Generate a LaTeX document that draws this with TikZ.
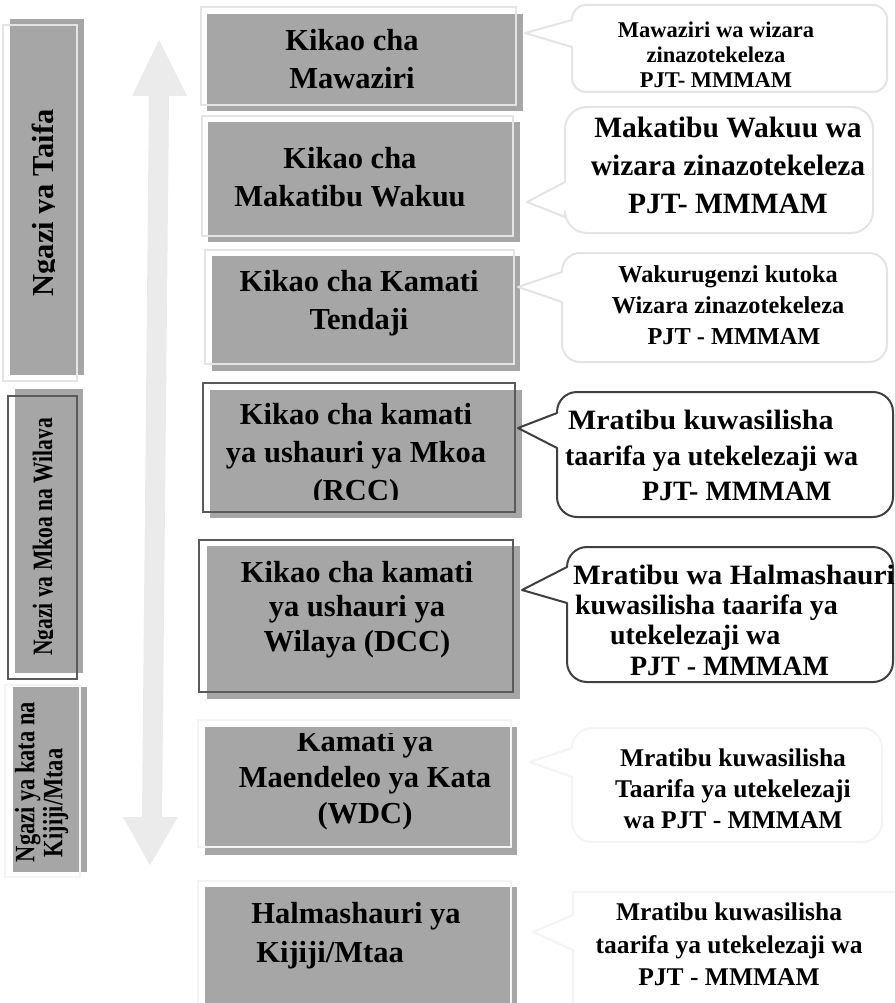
\documentclass[tikz,border=0pt]{standalone}
\usepackage{fontspec}
\usepackage{graphicx}
\setmainfont{Liberation Serif}
\definecolor{boxgray}{HTML}{A6A6A6}
\definecolor{arrowgray}{HTML}{EBEBEB}
\definecolor{lightline}{HTML}{E4E4E4}
\definecolor{darkline}{HTML}{5A5A5A}
\definecolor{faintline}{HTML}{F4F4F4}
\definecolor{calloutdark}{HTML}{404040}
\newcommand{\fsz}[2]{\fontsize{#1}{#2}\selectfont}
\begin{document}
\begin{tikzpicture}[x=1pt,y=-1pt,
  graybar/.style={fill=boxgray,draw=none},
  boxframe/.style={draw=#1,line width=1.2pt,fill=none},
  txt/.style={inner sep=0pt,outer sep=0pt,align=center,text=black},
  callline/.style={draw=#1,line width=2pt,fill=none,line join=round},
]
\useasboundingbox[fill=white] (0,0) rectangle (894,1003);

% ---------- big double arrow ----------
\fill[arrowgray] (159,40) -- (187,96) -- (169,96) -- (162,817) -- (178,817)
  -- (150,865) -- (123,817) -- (142,817) -- (149,96) -- (132,96) -- cycle;

% ---------- left level bars ----------
\fill[graybar] (10,19) rectangle (84,375);
\draw[boxframe=lightline] (3,25) rectangle (77,381);
\begin{scope}
  \clip (10,19) rectangle (54,375);
  \node[txt,rotate=90,anchor=base,font=\bfseries\fsz{30.5}{36}] (lvlA) at (53.5,203) {Ngazi ya Taifa};
\end{scope}

\fill[graybar] (15,389) rectangle (83,673);
\draw[boxframe=darkline] (8,396) rectangle (77,679);
\begin{scope}
  \clip (15,389) rectangle (52.5,673);
  \node[txt,rotate=90,anchor=base,font=\bfseries\fsz{28}{30}] (lvlB) at (52,537) {\scalebox{0.77}[1]{Ngazi ya Mkoa na Wilaya}};
\end{scope}

\fill[graybar] (13,687) rectangle (87,872);
\draw[boxframe=faintline] (5,685) rectangle (80,877);
\node[txt,align=left,rotate=90,anchor=north west,font=\bfseries\fsz{28}{28}] (lvlC) at (15,862)
  {\scalebox{0.8}[1]{Ngazi ya kata na}\\\hspace*{5pt}\scalebox{0.8}[1]{Kijiji/Mtaa}};

% ---------- centre boxes ----------
\fill[graybar] (207,14) rectangle (523,111);
\draw[boxframe=lightline] (201,7) rectangle (516,105);
\node[txt,font=\bfseries\fsz{30.5}{38}] (kA) at (352,59) {Kikao cha\\Mawaziri};

\fill[graybar] (208,122) rectangle (520,242);
\draw[boxframe=lightline] (202,116) rectangle (513,236);
\node[txt,font=\bfseries\fsz{30.5}{38}] (kB) at (350,177) {Kikao cha\\Makatibu Wakuu};

\fill[graybar] (212,256) rectangle (520,371);
\draw[boxframe=lightline] (205,250) rectangle (514,364);
\node[txt,font=\bfseries\fsz{30.5}{38}] (kC) at (359,303) {Kikao cha Kamati\\Tendaji};

\fill[graybar] (210,390) rectangle (522,518);
\draw[boxframe=darkline] (203,383) rectangle (515,512);
\begin{scope}
  \clip (203,383) rectangle (523,499);
  \node[txt,font=\bfseries\fsz{30.5}{38}] (kD) at (356,455) {Kikao cha kamati\\ya ushauri ya Mkoa\\(RCC)};
\end{scope}

\fill[graybar] (207,546) rectangle (520,699);
\draw[boxframe=darkline] (199,540) rectangle (513,692);
\node[txt,font=\bfseries\fsz{30.5}{34.5}] (kE) at (357,609.5) {Kikao cha kamati\\ya ushauri ya\\Wilaya (DCC)};

\fill[graybar] (205,727) rectangle (517,855);
\draw[boxframe=faintline] (198,720) rectangle (511,847);
\begin{scope}
  \clip (198,733) rectangle (523,855);
  \node[txt,font=\bfseries\fsz{30.5}{36}] (kF) at (365,780) {Kamati ya\\Maendeleo ya Kata\\(WDC)};
\end{scope}

\fill[graybar] (205,887) rectangle (517,1010);
\draw[boxframe=faintline] (198,881) rectangle (511,1010);
\node[txt,align=left,font=\bfseries\fsz{30.5}{39}] (kG) at (356,935.5) {Halmashauri ya\\\hspace*{5pt}Kijiji/Mtaa};

% ---------- callouts ----------
\draw[callline=lightline] (572,20) -- (525,33) -- (572,47) -- (572,78)
  arc[start angle=180,end angle=90,radius=14] -- (873,92)
  arc[start angle=90,end angle=0,radius=14] -- (887,19)
  arc[start angle=0,end angle=-90,radius=14] -- (586,5)
  arc[start angle=270,end angle=180,radius=14] -- cycle;
\node[txt,font=\bfseries\fsz{22.5}{25}] (cA) at (716,55) {Mawaziri wa wizara\\zinazotekeleza\\PJT- MMMAM};

\draw[callline=lightline] (565,182) -- (527,202) -- (565,217) -- (565,211)
  arc[start angle=180,end angle=90,radius=22] -- (851,233)
  arc[start angle=90,end angle=0,radius=22] -- (873,129)
  arc[start angle=0,end angle=-90,radius=22] -- (587,107)
  arc[start angle=270,end angle=180,radius=22] -- cycle;
\node[txt,font=\bfseries\fsz{29.5}{38}] (cB) at (728,165) {Makatibu Wakuu wa\\wizara zinazotekeleza\\PJT- MMMAM};

\draw[callline=lightline] (562,272) -- (518,287) -- (562,302) -- (562,344)
  arc[start angle=180,end angle=90,radius=18] -- (869,362)
  arc[start angle=90,end angle=0,radius=18] -- (887,271)
  arc[start angle=0,end angle=-90,radius=18] -- (580,253)
  arc[start angle=270,end angle=180,radius=18] -- cycle;
\node[txt,font=\bfseries\fsz{24.3}{31}] (cC) at (728,305.5) {Wakurugenzi kutoka\\Wizara zinazotekeleza\\\hspace*{12pt}PJT - MMMAM};

\draw[callline=calloutdark] (557,413) -- (518,428) -- (557,448) -- (557,497)
  arc[start angle=180,end angle=90,radius=20] -- (873,517)
  arc[start angle=90,end angle=0,radius=20] -- (893,412)
  arc[start angle=0,end angle=-90,radius=20] -- (577,392)
  arc[start angle=270,end angle=180,radius=20] -- cycle;
\node[txt,align=left,anchor=west,font=\bfseries\fsz{28}{35.5}] (cD) at (565,455.5) {\hspace*{3pt}\scalebox{1.07}[1]{Mratibu kuwasilisha}\\taarifa ya utekelezaji wa\\\hspace*{77pt}PJT- MMMAM};

\draw[callline=calloutdark] (567,567) -- (522,590) -- (567,603) -- (567,662)
  arc[start angle=180,end angle=90,radius=20] -- (873,682)
  arc[start angle=90,end angle=0,radius=20] -- (893,567)
  arc[start angle=0,end angle=-90,radius=20] -- (587,547)
  arc[start angle=270,end angle=180,radius=20] -- cycle;
\node[txt,align=left,anchor=west,font=\bfseries\fsz{28}{30.3}] (cE) at (573,620) {\scalebox{1.05}[1]{Mratibu wa Halmashauri}\\\hspace*{2pt}kuwasilisha taarifa ya\\\hspace*{37pt}utekelezaji wa\\\hspace*{57pt}PJT - MMMAM};

\draw[callline=faintline] (572,748) -- (530,762) -- (572,777) -- (572,822)
  arc[start angle=180,end angle=90,radius=20] -- (862,842)
  arc[start angle=90,end angle=0,radius=20] -- (882,748)
  arc[start angle=0,end angle=-90,radius=20] -- (592,728)
  arc[start angle=270,end angle=180,radius=20] -- cycle;
\node[txt,font=\bfseries\fsz{25.5}{31}] (cF) at (733,789) {Mratibu kuwasilisha\\Taarifa ya utekelezaji\\wa PJT - MMMAM};

\draw[callline=faintline] (573,915) -- (533,932) -- (573,950) -- (573,1010) -- (900,1010) -- (900,892) -- (573,892) -- cycle;
\node[txt,font=\bfseries\fsz{25.5}{32.5}] (cG) at (729,944.5) {Mratibu kuwasilisha\\taarifa ya utekelezaji wa\\PJT - MMMAM};
\end{tikzpicture}
\end{document}
